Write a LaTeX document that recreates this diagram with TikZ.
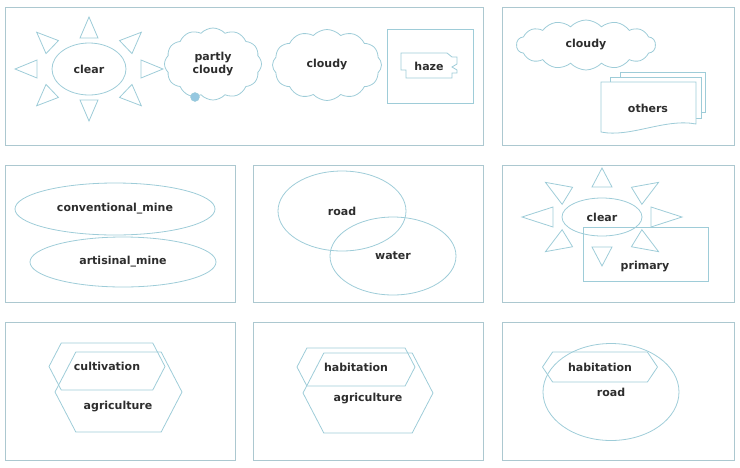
\documentclass[tikz,border=0pt]{standalone}
\usepackage{fontspec}
\setmainfont{DejaVu Sans}
\usepackage{tikz}
\usetikzlibrary{shapes.geometric,shapes.symbols,calc,positioning}
\definecolor{lineblue}{RGB}{158,204,216}
\definecolor{framegray}{RGB}{172,200,208}
\definecolor{textgray}{RGB}{45,45,45}
\definecolor{dropblue}{RGB}{150,200,225}

\begin{document}
\begin{tikzpicture}[x=1pt,y=-1pt,
  shapeline/.style={draw=lineblue,line width=0.8pt},
  panel/.style={draw=framegray,line width=0.9pt},
  lbl/.style={font=\bfseries\fontsize{11}{12.5}\selectfont,text=textgray,align=center},
  ring/.style={shapeline,ellipse,inner sep=0pt},
  puff/.style={shapeline,cloud,cloud puffs=12,cloud puff arc=95,cloud ignores aspect,inner sep=0pt},
  hexa/.style={shapeline,signal,signal to=west and east,signal pointer angle=125,inner sep=0pt}]
\useasboundingbox (0,0) rectangle (740,467);
% panels
\draw[panel] (5,7) rectangle (483,145);
\draw[panel] (502,7) rectangle (734,145);
\draw[panel] (5,165) rectangle (235,302);
\draw[panel] (253,165) rectangle (483,302);
\draw[panel] (502,165) rectangle (734,302);
\draw[panel] (5,322) rectangle (235,460);
\draw[panel] (253,322) rectangle (483,460);
\draw[panel] (502,322) rectangle (734,460);

% top row: sky
\node[ring,lbl,minimum width=74,minimum height=52] (clearA) at (89,69) {clear};
\foreach \a in {0,45,...,315}{
  \coordinate (rb) at ($(clearA.center)+({52*cos(\a)},{31*sin(\a)})$);
  \coordinate (rt) at ($(clearA.center)+({74*cos(\a)},{52*sin(\a)})$);
  \draw[shapeline] ($(rb)!9pt!90:(rt)$) -- (rt) -- ($(rb)!9pt!-90:(rt)$) -- cycle;
}
\node[puff,lbl,minimum width=97,minimum height=72] (partly) at (213,64) {partly\\cloudy};
\node[circle,fill=dropblue,draw=lineblue,minimum size=9pt,inner sep=0pt] (drop) at (195,97) {};
\node[puff,lbl,minimum width=109,minimum height=71] (cloudyA) at (327,65) {cloudy};
\draw[shapeline] (387,29) rectangle (473,103);
\node[lbl] (haze) at (429,66) {haze};
\draw[shapeline] (401,53) -- (447,53) -- (452,57) -- (457,57) -- (457,64) -- (452,67)
  -- (457,70) -- (457,73) -- (452,73) -- (452,78) -- (406,78) -- (406,70) -- (401,70) -- cycle;

\node[puff,lbl,cloud puffs=14,minimum width=139,minimum height=50] (cloudyB) at (586,45) {cloudy};
\draw[shapeline,fill=white] (620,72) rectangle (705,112);
\draw[shapeline,fill=white] (610,77) rectangle (701,118);
\draw[shapeline,fill=white] (601,82) -- (696,82) -- (696,124)
  .. controls (665,118) and (630,138) .. (601,132) -- cycle;
\node[lbl] (others) at (648,108) {others};

% middle row
\node[ring,lbl,minimum width=200,minimum height=52] (convMine) at (115,209) {conventional\_mine};
\node[ring,lbl,minimum width=186,minimum height=50] (artMine) at (123,262) {artisinal\_mine};

\node[ring,lbl,minimum width=128,minimum height=80] (roadD) at (342,211) {road};
\node[ring,lbl,minimum width=126,minimum height=78] (water) at (393,256) {water};

\node[ring,lbl,minimum width=80,minimum height=38] (clearE) at (602,217) {clear};
\foreach \a in {0,45,...,315}{
  \coordinate (rb) at ($(clearE.center)+({49*cos(\a)},{30*sin(\a)})$);
  \coordinate (rt) at ($(clearE.center)+({80*cos(\a)},{49*sin(\a)})$);
  \draw[shapeline] ($(rb)!10pt!90:(rt)$) -- (rt) -- ($(rb)!10pt!-90:(rt)$) -- cycle;
}
\draw[shapeline] (583,227) rectangle (708,281);
\node[lbl] (primary) at (645,267) {primary};

% bottom row: land
\node[hexa,minimum width=127,minimum height=80] (agriF) at (118.5,392) {};
\node[lbl] (agriFtext) at (118,407) {agriculture};
\node[hexa,lbl,minimum width=116,minimum height=47] (cultiv) at (107,366.5) {cultivation};

\node[hexa,minimum width=130,minimum height=80] (agriG) at (368,393) {};
\node[lbl] (agriGtext) at (368,399) {agriculture};
\node[hexa,lbl,minimum width=118,minimum height=38] (habitG) at (356,367) {habitation};

\node[ring,lbl,minimum width=136,minimum height=97] (roadH) at (611,392) {road};
\node[hexa,lbl,signal pointer angle=112,minimum width=115,minimum height=30] (habitH) at (600,367) {};
\node[lbl] (habitHtext) at (600,367) {habitation};
\end{tikzpicture}
\end{document}
